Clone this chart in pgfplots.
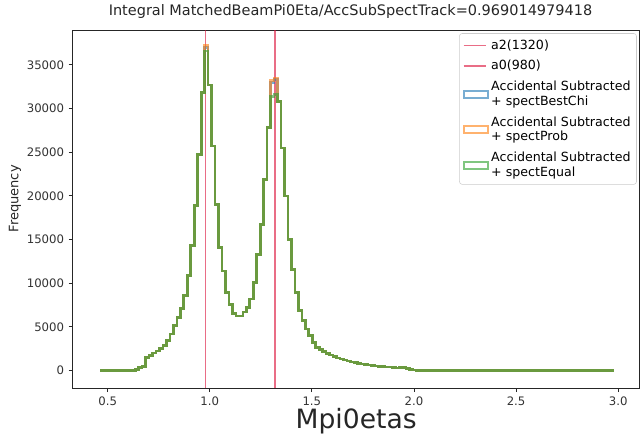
\documentclass[border=0pt]{standalone}
\usepackage{pgfplots}
\pgfplotsset{compat=1.18}
\usepackage{pgfplotstable}
\usepackage{fontspec}
\setmainfont{DejaVu Sans}

\definecolor{tabblue}{HTML}{1F77B4}
\definecolor{taborange}{HTML}{FF7F0E}
\definecolor{tabgreen}{HTML}{2CA02C}
\definecolor{crimson}{HTML}{DC143C}

% resonance masses
\pgfplotstableread{
x    y
1.32 -2000
1.32 38950
}\atwo
\pgfplotstableread{
x    y
0.98 -2000
0.98 38950
}\azero

% bin left edges and counts (width 0.017)
\pgfplotstableread{
x     b     o     g
0.465 0     0     0
0.635 150   150   150
0.652 350   350   350
0.669 450   450   450
0.686 1500  1500  1500
0.703 1750  1750  1750
0.720 2000  2000  2000
0.737 2250  2250  2250
0.754 2550  2550  2550
0.771 2900  2900  2900
0.788 3450  3450  3450
0.805 4200  4200  4200
0.822 5150  5150  5150
0.839 6100  6100  6100
0.856 7100  7100  7100
0.873 8600  8600  8600
0.890 10900 10900 10900
0.907 14300 14300 14300
0.924 18900 18900 18900
0.941 24700 24700 24700
0.958 31800 31800 31800
0.975 37000 37200 36600
0.992 32700 32700 32700
1.009 25700 25700 25700
1.026 19000 19000 19000
1.043 14100 14100 14100
1.060 11400 11400 11400
1.077 8900  8900  8900
1.094 7600  7600  7600
1.111 6500  6500  6500
1.128 6250  6250  6250
1.145 6250  6250  6250
1.162 6700  6700  6700
1.179 7200  7200  7200
1.196 8200  8200  8200
1.213 10100 10100 10100
1.230 13300 13300 13300
1.247 16700 16700 16700
1.264 21900 21900 21900
1.281 27800 27800 27800
1.298 33000 33200 31400
1.315 33300 33500 31600
1.332 30800 30800 30800
1.349 25500 25500 25500
1.366 20000 20000 20000
1.383 15000 15000 15000
1.400 11600 11600 11600
1.417 8940  8940  8940
1.434 6850  6850  6850
1.451 5710  5710  5710
1.468 4750  4750  4750
1.485 4000  4000  4000
1.502 3230  3230  3230
1.519 2660  2660  2660
1.536 2400  2400  2400
1.553 2150  2150  2150
1.570 1950  1950  1950
1.587 1800  1800  1800
1.604 1600  1600  1600
1.621 1450  1450  1450
1.638 1320  1320  1320
1.655 1200  1200  1200
1.672 1080  1080  1080
1.689 980   980   980
1.706 900   900   900
1.723 820   820   820
1.740 750   750   750
1.757 690   690   690
1.774 640   640   640
1.791 590   590   590
1.808 540   540   540
1.825 500   500   500
1.842 460   460   460
1.859 420   420   420
1.876 390   390   390
1.893 350   350   350
1.910 300   300   300
1.927 330   330   330
1.944 380   380   380
1.961 250   250   250
1.978 150   150   150
1.995 60    60    60
2.012 0     0     0
2.981 0     0     0
}\spect

\begin{document}
\begin{tikzpicture}
\begin{axis}[
    at={(0,0)}, anchor=south west,
    scale only axis,
    width=426.75pt, height=269.25pt,
    xmin=0.329, xmax=3.105,
    ymin=-2000, ymax=38950,
    axis line style={black!85, line width=0.6pt},
    tick align=outside,
    xtick pos=bottom, ytick pos=left,
    major tick length=3pt,
    tick style={black!85, line width=0.6pt},
    xtick={0.5,1.0,1.5,2.0,2.5,3.0},
    ytick={0,5000,10000,15000,20000,25000,30000,35000},
    scaled y ticks=false,
    xticklabel style={/pgf/number format/.cd, fixed, fixed zerofill, precision=1},
    yticklabel style={/pgf/number format/1000 sep={}},
    /pgf/number format/assume math mode=true,
    tick label style={font=\fontsize{8.8}{10}\selectfont, text=black!80},
    title={Integral MatchedBeamPi0Eta/AccSubSpectTrack=0.969014979418},
    title style={at={(axis description cs:0.49,1.0195)}, anchor=base,
        font=\fontsize{10.9}{12}\selectfont, text=black!85},
    xlabel={Mpi0etas},
    xlabel style={at={(axis description cs:0.5,-0.114)}, anchor=base,
        font=\fontsize{20}{24}\selectfont, text=black!85},
    ylabel={Frequency},
    ylabel style={at={(axis description cs:-0.102,0.529)}, anchor=center, rotate=0,
        font=\fontsize{9.8}{11}\selectfont, text=black!85},
    legend style={at={(axis description cs:0.995,0.992)}, anchor=north east,
        draw=black!20, rounded corners=2pt, fill=white, fill opacity=0.8, text opacity=1,
        font=\fontsize{9.5}{11}\selectfont, cells={align=left, anchor=west},
        inner sep=2.5pt, row sep=3pt},
    legend cell align=left,
    vres/.style={const plot mark left, draw=crimson, color=crimson, draw opacity=0.62,
        line width=1.05pt, sharp corners},
]
\addplot[vres] table[x=x, y=y] {\atwo};
\addlegendentry{a2(1320)}
\addplot[vres] table[x=x, y=y] {\azero};
\addlegendentry{a0(980)}
\pgfplotsset{histleg/.style={legend image code/.code={
    \draw[##1, fill=none, line width=1.4pt, sharp corners] (0pt,-2.6pt) rectangle (18pt,2.6pt);}}}
\addplot[const plot mark left, tabblue, draw opacity=0.6, line width=2pt, histleg]
    table[x=x, y=b] {\spect};
\addlegendentry{Accidental Subtracted\\+ spectBestChi}
\addplot[const plot mark left, taborange, draw opacity=0.6, line width=2pt, histleg]
    table[x=x, y=o] {\spect};
\addlegendentry{Accidental Subtracted\\+ spectProb}
\addplot[const plot mark left, tabgreen, draw opacity=0.6, line width=2pt, histleg]
    table[x=x, y=g] {\spect};
\addlegendentry{Accidental Subtracted\\+ spectEqual}
\end{axis}
\useasboundingbox (-54.75pt,-34.5pt) rectangle (425.25pt,289.5pt);
\end{tikzpicture}
\end{document}
